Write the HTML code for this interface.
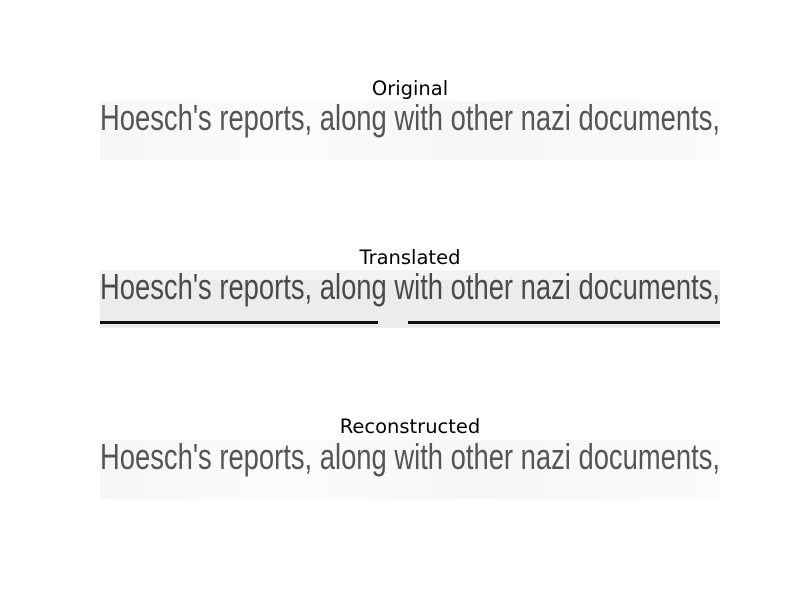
<!DOCTYPE html>
<html><head><style>
html,body{margin:0;padding:0;background:#fff;width:800px;height:600px;overflow:hidden}
</style></head><body>
<svg width="800" height="600" xmlns="http://www.w3.org/2000/svg">
<defs>
<linearGradient id="bg1" x1="0" x2="1">
<stop offset="0" stop-color="#f6f6f6"/><stop offset="0.3" stop-color="#fcfcfc"/><stop offset="0.6" stop-color="#f6f6f6"/><stop offset="1" stop-color="#fbfbfb"/>
</linearGradient>
</defs>
<g font-family="DejaVu Sans, sans-serif" font-size="19.5" fill="#000" text-anchor="middle">
<text x="410" y="95">Original</text>
<text x="410" y="264">Translated</text>
<text x="410" y="433">Reconstructed</text>
</g>
<!-- Original -->
<rect x="100" y="101" width="620" height="59" fill="url(#bg1)"/>
<text x="100" y="130" font-family="Liberation Sans, sans-serif" font-size="36" fill="#555" textLength="620" lengthAdjust="spacingAndGlyphs">Hoesch's reports, along with other nazi documents,</text>
<!-- Translated -->
<rect x="100" y="270" width="620" height="58" fill="#ececec"/>
<rect x="100" y="270" width="620" height="10" fill="#f3f3f3"/>
<text x="100" y="299" font-family="Liberation Sans, sans-serif" font-size="36" fill="#4a4a4a" textLength="620" lengthAdjust="spacingAndGlyphs">Hoesch's reports, along with other nazi documents,</text>
<rect x="100" y="321" width="278" height="3" fill="#111"/>
<rect x="408" y="321" width="312" height="3" fill="#111"/>
<!-- Reconstructed -->
<rect x="100" y="440" width="620" height="59" fill="url(#bg1)"/>
<text x="100" y="469" font-family="Liberation Sans, sans-serif" font-size="36" fill="#555" textLength="620" lengthAdjust="spacingAndGlyphs">Hoesch's reports, along with other nazi documents,</text>
</svg>
</body></html>
